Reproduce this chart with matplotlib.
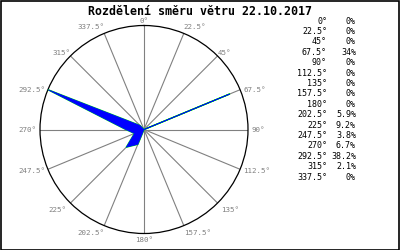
import numpy as np
import matplotlib
matplotlib.use("Agg")
import matplotlib.pyplot as plt
from matplotlib.patches import Rectangle

directions = [0, 22.5, 45, 67.5, 90, 112.5, 135, 157.5, 180, 202.5, 225, 247.5, 270, 292.5, 315, 337.5]
percent = [0, 0, 0, 34, 0, 0, 0, 0, 0, 5.9, 9.2, 3.8, 6.7, 38.2, 2.1, 0]
title = "Rozdělení směru větru 22.10.2017"

plt.rcParams['font.family'] = ['DejaVu Sans Mono']

W, H = 400, 250
fig = plt.figure(figsize=(W / 100, H / 100), dpi=100)
fig.patch.set_facecolor('white')
fig.add_artist(Rectangle((0.5 / W, 0.5 / H), 1 - 1.5 / W, 1 - 1.5 / H, transform=fig.transFigure,
                         fill=False, edgecolor='black', lw=1.2))

fig.text(200 / W, 1 - 11.5 / H, title, ha='center', va='center', fontsize=8.4,
         fontweight='bold', color='black')

R = 104
cx, cy = 144, 129.5
ax = fig.add_axes([(cx - R) / W, (H - cy - R) / H, 2 * R / W, 2 * R / H], projection='polar')
ax.set_theta_zero_location('N')
ax.set_theta_direction(-1)
rmax = max(percent)
ax.set_ylim(0, rmax)
ax.grid(False)
ax.set_xticks([])
ax.set_yticks([])
ax.spines['polar'].set_color('black')
ax.spines['polar'].set_linewidth(0.9)
ax.set_facecolor('white')

th = np.deg2rad(directions)
for t in th:
    ax.plot([t, t], [0, rmax], color='#808080', lw=0.8, zorder=1)

# label offsets (pixels) and alignment
offs = {0: (0, 1.5, 'center', 'bottom'), 22.5: (0, 3.5, 'left', 'bottom'), 45: (0, 3, 'left', 'center'),
        67.5: (3, 0, 'left', 'center'), 90: (4, 0, 'left', 'center'), 112.5: (3, -2, 'left', 'center'),
        135: (4, -4, 'left', 'top'), 157.5: (0, -4, 'left', 'top'), 180: (0, -3, 'center', 'top')}
for d, t in zip(directions, th):
    if d <= 180:
        dx, dy, ha, va = offs[d]
    else:
        dx, dy, ha, va = offs[360 - d]
        dx = -dx
        ha = {'left': 'right', 'right': 'left', 'center': 'center'}[ha]
    ax.annotate('%g°' % d, xy=(t, rmax), xytext=(dx, dy), textcoords='offset pixels',
                ha=ha, va=va, fontsize=5.4, color='#808080', annotation_clip=False)

tt = np.append(th, th[0])
rr = np.append(percent, percent[0])
ax.fill(tt, rr, color='#0000ff', zorder=3, lw=0)
ax.plot(tt, rr, color='#00ff00', lw=1.0, zorder=2.9)
ax.plot(tt, rr, color='#0000ff', lw=0.5, zorder=3.1)

# legend table
y0, dy = 21, 10.4
for i, (d, p) in enumerate(zip(directions, percent)):
    y = 1 - (y0 + i * dy) / H
    fig.text(327 / W, y, '%g°' % d, ha='right', va='center', fontsize=6.0, color='black')
    ptxt = ('%d%%' % p) if float(p).is_integer() else ('%.1f%%' % p)
    fig.text(356 / W, y, ptxt, ha='right', va='center', fontsize=6.0, color='black')

fig.savefig('out.png', dpi=100, facecolor='white')
